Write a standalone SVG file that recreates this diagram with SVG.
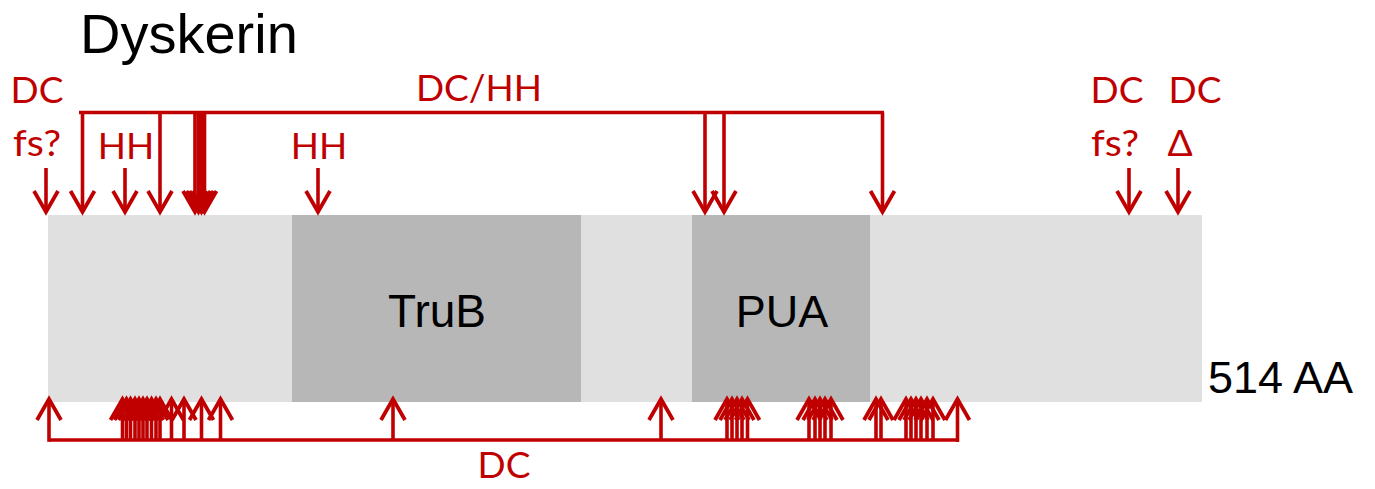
<svg xmlns="http://www.w3.org/2000/svg" width="1375" height="489" viewBox="0 0 1375 489">
  <style>
    .lbl { font-family: Lato, "Open Sans", sans-serif; font-size: 37px; fill: #c00000; }
    .blk { font-family: "Liberation Sans", Arial, sans-serif; fill: #000; }
    .cn { fill: none; stroke: #c00000; stroke-width: 3.6; }
    .ar { marker-end: url(#ah); }
  </style>
  <defs>
    <marker id="ah" markerUnits="userSpaceOnUse" markerWidth="32" markerHeight="32" viewBox="-26 -16 30 32" refX="0" refY="0" orient="auto" overflow="visible">
      <path d="M-21,-12 L0,0 L-21,12" fill="none" stroke="#c00000" stroke-width="3.8"/>
    </marker>
  </defs>
  <rect width="1375" height="489" fill="#fff"/>

  <!-- title -->
  <text id="title" class="blk" x="80" y="53" font-size="56">Dyskerin</text>

  <!-- protein bar with domains -->
  <g id="protein">
    <rect x="48" y="215" width="1154" height="187" fill="#e0e0e0"/>
  </g>
  <g id="truB">
    <rect x="292" y="215" width="289" height="187" fill="#b7b7b7"/>
    <text class="blk" x="437" y="327" font-size="46" text-anchor="middle">TruB</text>
  </g>
  <g id="pua">
    <rect x="692" y="215" width="178" height="187" fill="#b7b7b7"/>
    <text class="blk" x="782" y="327" font-size="45" text-anchor="middle">PUA</text>
  </g>
  <text id="length" class="blk" x="1208" y="393" font-size="45">514 AA</text>

  <!-- labels -->
  <g id="labels">
    <text class="lbl" x="37" y="103" text-anchor="middle">DC</text>
    <text class="lbl" x="37" y="156" text-anchor="middle" textLength="48" lengthAdjust="spacingAndGlyphs">fs?</text>
    <text class="lbl" x="126" y="159" text-anchor="middle">HH</text>
    <text class="lbl" x="319" y="159" text-anchor="middle">HH</text>
    <text class="lbl" x="479" y="101" text-anchor="middle">DC/HH</text>
    <text class="lbl" x="1117" y="103" text-anchor="middle">DC</text>
    <text class="lbl" x="1195" y="103" text-anchor="middle">DC</text>
    <text class="lbl" x="1115" y="156" text-anchor="middle" textLength="48" lengthAdjust="spacingAndGlyphs">fs?</text>
    <text class="lbl" x="1180" y="156" text-anchor="middle">Δ</text>
    <text class="lbl" x="504" y="478" text-anchor="middle">DC</text>
  </g>

  <g id="connectors">
    <!-- upper bracket (DC/HH) -->
    <path class="cn" d="M79,112.5 H884"/>
    <path class="cn ar" d="M82.5,112.5 V212"/>
    <path class="cn ar" d="M160,112.5 V212"/>
    <path class="cn ar" d="M195,112.5 V212"/>
    <path class="cn ar" d="M198.5,112.5 V212"/>
    <path class="cn ar" d="M201.5,112.5 V212"/>
    <path class="cn ar" d="M204.5,112.5 V212"/>
    <path class="cn ar" d="M705,112.5 V212"/>
    <path class="cn ar" d="M724,112.5 V212"/>
    <path class="cn ar" d="M882.5,112.5 V212"/>

    <!-- single upper arrows -->
    <path class="cn ar" d="M46,168 V212"/>
    <path class="cn ar" d="M125,168 V212"/>
    <path class="cn ar" d="M318,168 V212"/>
    <path class="cn ar" d="M1129,168 V212"/>
    <path class="cn ar" d="M1178,168 V212"/>

    <!-- lower bracket (DC) -->
    <path class="cn" d="M49,440 H959"/>
    <path class="cn ar" d="M49,441.8 V399"/>
    <path class="cn ar" d="M122.5,440 V399"/>
    <path class="cn ar" d="M126.5,440 V399"/>
    <path class="cn ar" d="M130.5,440 V399"/>
    <path class="cn ar" d="M135,440 V399"/>
    <path class="cn ar" d="M139,440 V399"/>
    <path class="cn ar" d="M143,440 V399"/>
    <path class="cn ar" d="M147,440 V399"/>
    <path class="cn ar" d="M151.5,440 V399"/>
    <path class="cn ar" d="M156,440 V399"/>
    <path class="cn ar" d="M160,440 V399"/>
    <path class="cn ar" d="M171.5,440 V399"/>
    <path class="cn ar" d="M184,440 V399"/>
    <path class="cn ar" d="M201.5,440 V399"/>
    <path class="cn ar" d="M220.5,440 V399"/>
    <path class="cn ar" d="M393,440 V399"/>
    <path class="cn ar" d="M661,440 V399"/>
    <path class="cn ar" d="M727,440 V399"/>
    <path class="cn ar" d="M732,440 V399"/>
    <path class="cn ar" d="M737,440 V399"/>
    <path class="cn ar" d="M742,440 V399"/>
    <path class="cn ar" d="M747.5,440 V399"/>
    <path class="cn ar" d="M809,440 V399"/>
    <path class="cn ar" d="M815,440 V399"/>
    <path class="cn ar" d="M820,440 V399"/>
    <path class="cn ar" d="M825,440 V399"/>
    <path class="cn ar" d="M831,440 V399"/>
    <path class="cn ar" d="M876,440 V399"/>
    <path class="cn ar" d="M881,440 V399"/>
    <path class="cn ar" d="M906,440 V399"/>
    <path class="cn ar" d="M911,440 V399"/>
    <path class="cn ar" d="M916,440 V399"/>
    <path class="cn ar" d="M921,440 V399"/>
    <path class="cn ar" d="M927,440 V399"/>
    <path class="cn ar" d="M933,440 V399"/>
    <path class="cn ar" d="M957.5,441.8 V399"/>
  </g>
</svg>
